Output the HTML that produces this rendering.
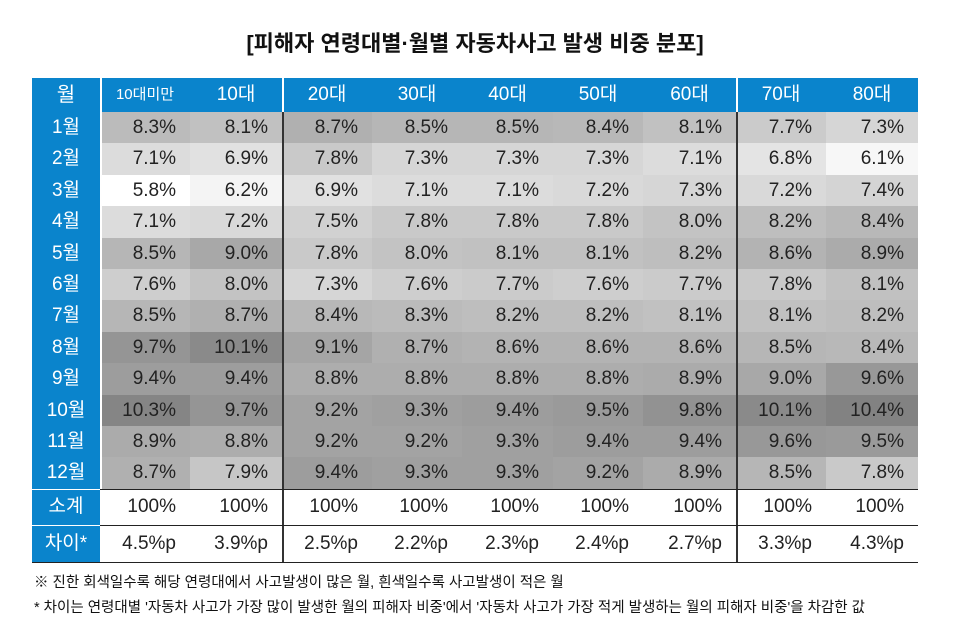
<!DOCTYPE html>
<html><head><meta charset="utf-8"><style>
body{margin:0;width:975px;height:633px;background:#fff;font-family:"Liberation Sans","Noto Sans CJK KR",sans-serif;position:relative;overflow:hidden}
#title{position:absolute;left:0;width:950px;top:26px;text-align:center;font-size:22px;font-weight:bold;color:#111}
#tbl{position:absolute;left:32px;top:78px}
.c{position:absolute;box-sizing:border-box;font-size:19px;color:#222;text-align:right;padding-right:14px}
.h{background:#0a84cc;color:#fff;text-align:center;padding:0}
.note{position:absolute;left:34px;font-size:14.5px;color:#111}
</style></head><body>
<div id="title">[피해자 연령대별·월별 자동차사고 발생 비중 분포]</div>
<div id="tbl"></div>
<div class="note" style="top:571px">※ 진한 회색일수록 해당 연령대에서 사고발생이 많은 월, 흰색일수록 사고발생이 적은 월</div>
<div class="note" style="top:596px">* 차이는 연령대별 '자동차 사고가 가장 많이 발생한 월의 피해자 비중'에서 '자동차 사고가 가장 적게 발생하는 월의 피해자 비중'을 차감한 값</div>
<script>
const ages=["10대미만","10대","20대","30대","40대","50대","60대","70대","80대"];
const months=["1월","2월","3월","4월","5월","6월","7월","8월","9월","10월","11월","12월"];
const values=[
[8.3,8.1,8.7,8.5,8.5,8.4,8.1,7.7,7.3],
[7.1,6.9,7.8,7.3,7.3,7.3,7.1,6.8,6.1],
[5.8,6.2,6.9,7.1,7.1,7.2,7.3,7.2,7.4],
[7.1,7.2,7.5,7.8,7.8,7.8,8.0,8.2,8.4],
[8.5,9.0,7.8,8.0,8.1,8.1,8.2,8.6,8.9],
[7.6,8.0,7.3,7.6,7.7,7.6,7.7,7.8,8.1],
[8.5,8.7,8.4,8.3,8.2,8.2,8.1,8.1,8.2],
[9.7,10.1,9.1,8.7,8.6,8.6,8.6,8.5,8.4],
[9.4,9.4,8.8,8.8,8.8,8.8,8.9,9.0,9.6],
[10.3,9.7,9.2,9.3,9.4,9.5,9.8,10.1,10.4],
[8.9,8.8,9.2,9.2,9.3,9.4,9.4,9.6,9.5],
[8.7,7.9,9.4,9.3,9.3,9.2,8.9,8.5,7.8]];
const diffs=["4.5%p","3.9%p","2.5%p","2.2%p","2.3%p","2.4%p","2.7%p","3.3%p","4.3%p"];
const T=document.getElementById('tbl');
const colX=[0,68,158,250,340,430,521,611,704,794,886];
const headH=34,rowH=31.4,r0=34,sumY=r0+12*rowH,difY=sumY+36,endY=difY+37;
function cell(x,y,w,h,txt,cls,name){const d=document.createElement('div');d.className='c '+cls;
d.style.left=x+'px';d.style.top=y+'px';d.style.width=w+'px';d.style.height=h+'px';d.style.lineHeight=h+'px';d.textContent=txt;


T.appendChild(d);return d;}
function shade(v){const g=Math.round(255-(v-5.8)/4.6*125);return 'rgb('+g+','+g+','+g+')';}
cell(0,0,68,headH,'월','h','header-month').style.fontSize='20px';
ages.forEach((a,i)=>{const d=cell(colX[i+1],0,colX[i+2]-colX[i+1],headH,a,'h','header-'+i);if(i==0)d.style.fontSize='15px';});
months.forEach((m,r)=>{cell(0,r0+r*rowH,68,rowH,m,'h','row-label-'+(r+1));
values[r].forEach((v,i)=>{const d=cell(colX[i+1],r0+r*rowH,colX[i+2]-colX[i+1],rowH,v.toFixed(1)+'%','','cell-'+(r+1)+'-'+i);d.style.background=shade(v);});});
cell(0,sumY,68,36,'소계','h','row-label-subtotal');
cell(0,difY,68,37,'차이*','h','row-label-diff');
ages.forEach((a,i)=>{cell(colX[i+1],sumY,colX[i+2]-colX[i+1],36,'100%','','subtotal-'+i);
cell(colX[i+1],difY,colX[i+2]-colX[i+1],37,diffs[i],'','diff-'+i);});
function line(x,y,w,h,c,name){const d=document.createElement('div');d.style.cssText='position:absolute;left:'+x+'px;top:'+y+'px;width:'+w+'px;height:'+h+'px;background:'+c;


T.appendChild(d);}
line(68,0,1.5,endY,'#fff','month-divider');
line(68,sumY,1,endY-sumY,'#fff','month-divider-low');
line(250,0,1.5,headH,'#fff','hdr-div-1');line(704,0,1.5,headH,'#fff','hdr-div-2');
line(250,headH,1.5,endY-headH,'#333','group-divider-1');line(704,headH,1.5,endY-headH,'#333','group-divider-2');
line(0,sumY,886,1.5,'#222','subtotal-top');line(0,difY,886,1.5,'#222','diff-top');line(0,endY,886,1.5,'#222','table-bottom');
line(0,sumY,68,1.5,'#fff','hw1');line(0,difY,68,1.5,'#fff','hw2');
</script>
</body></html>
